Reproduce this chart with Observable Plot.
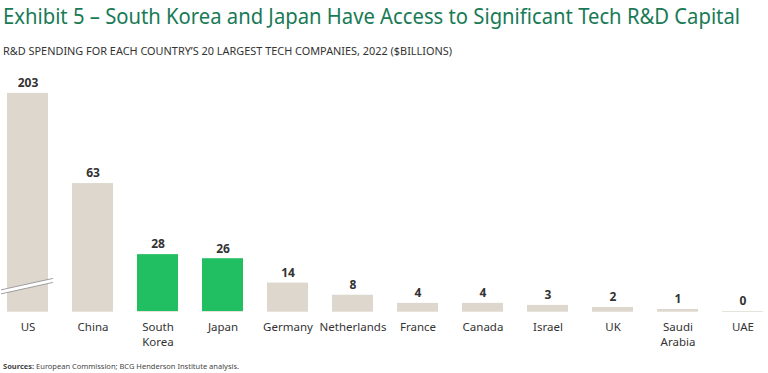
<!DOCTYPE html>
<html>
<head>
<meta charset="utf-8">
<script src="https://cdn.jsdelivr.net/npm/d3@7"></script>
<script src="https://cdn.jsdelivr.net/npm/@observablehq/plot@0.6"></script>
<style>
  html, body { margin: 0; padding: 0; background: #fff; }
  body { width: 768px; height: 373px; overflow: hidden; position: relative; font-family: "Noto Sans", sans-serif; }
  #title { position: absolute; left: 3px; top: 1px; font-family: "Noto Sans", sans-serif; font-size: 21px; color: #197a56; white-space: nowrap; line-height: 30px; transform-origin: 0 0; }
  #subtitle { position: absolute; left: 3px; top: 44px; font-size: 10.5px; color: #333; white-space: nowrap; line-height: 14px; transform-origin: 0 0; }
  #chart { position: absolute; left: 0; top: 62px; }
  #caption { position: absolute; left: 3px; top: 360px; font-size: 7.5px; color: #444; white-space: nowrap; line-height: 12px; }
</style>
</head>
<body>
<div id="title">Exhibit 5 – South Korea and Japan Have Access to Significant Tech R&amp;D Capital</div>
<div id="subtitle">R&amp;D SPENDING FOR EACH COUNTRY’S 20 LARGEST TECH COMPANIES, 2022 ($BILLIONS)</div>
<div id="chart"></div>
<div id="caption"><b>Sources:</b> European Commission; BCG Henderson Institute analysis.</div>
<script>
const countries = ["US", "China", "South Korea", "Japan", "Germany", "Netherlands", "France", "Canada", "Israel", "UK", "Saudi Arabia", "UAE"];
const tickLabels = ["US", "China", "South\nKorea", "Japan", "Germany", "Netherlands", "France", "Canada", "Israel", "UK", "Saudi\nArabia", "UAE"];
const spending = [203, 63, 28, 26, 14, 8, 4, 4, 3, 2, 1, 0];
const highlighted = ["South Korea", "Japan"];
const breakCap = 107.4;   // US bar is drawn truncated at this value (axis break)
const breakAt = 12.3;     // where the break marker sits on the US bar
const yMax = 117.7;

// fit header texts horizontally to the reference widths
function fitWidth(id, w) {
  const el = document.getElementById(id);
  const cur = el.getBoundingClientRect().width;
  el.style.transform = `scaleX(${w / cur})`;
}
fitWidth("title", 737);
fitWidth("subtitle", 449);

const data = countries.map((c, i) => ({
  country: c,
  label: tickLabels[i],
  value: spending[i],
  shown: Math.min(spending[i], breakCap),
  hi: highlighted.includes(c)
}));

const beige = "#ddd7cd";
const green = "#21bf61";

const breakMark = (index, scales, values, dimensions) => {
  const x = scales.x("US");
  const bw = scales.x.bandwidth();
  const cx = x + bw / 2;
  const cy = scales.y(breakAt);
  const x0 = x - 6, x1 = x + bw + 5;
  const slope = -0.22;
  const yAt = (xx) => cy + (xx - cx) * slope;
  const g = d3.create("svg:g");
  const gap = 4;
  g.append("polygon")
    .attr("points", [[x0, yAt(x0) - gap / 2], [x1, yAt(x1) - gap / 2], [x1, yAt(x1) + gap / 2], [x0, yAt(x0) + gap / 2]].map(p => p.join(",")).join(" "))
    .attr("fill", "#fff");
  for (const s of [-1, 1]) {
    g.append("line")
      .attr("x1", x0).attr("y1", yAt(x0) + s * gap / 2)
      .attr("x2", x1).attr("y2", yAt(x1) + s * gap / 2)
      .attr("stroke", "#8a8a8a").attr("stroke-width", 0.8);
  }
  return g.node();
};

const chart = Plot.plot({
  width: 768,
  height: 291,
  marginLeft: 5,
  marginRight: 3.5,
  marginTop: 10,
  marginBottom: 42,
  x: { domain: countries, paddingInner: 0.37, paddingOuter: 0, label: null, tickSize: 0, tickPadding: 8 },
  y: { domain: [0, yMax], axis: null },
  style: { fontFamily: "Noto Sans, sans-serif", color: "#333", background: "#fff" },
  marks: [
    Plot.tickY(data, { x: "country", y: 0, stroke: "#e6e2dc", strokeWidth: 1 }),
    Plot.barY(data, { x: "country", y: "shown", fill: d => d.hi ? green : beige }),
    breakMark,
    Plot.text(data, { x: "country", y: "shown", text: d => String(d.value), dy: -10, fontWeight: "bold", fontSize: 12, fill: "#333" }),
    Plot.axisX({ tickSize: 0, tickPadding: 8, fontSize: 11.5, tickFormat: (d) => tickLabels[countries.indexOf(d)], lineHeight: 1.35, fill: "#333" })
  ]
});
document.getElementById("chart").appendChild(chart);
</script>
</body>
</html>
